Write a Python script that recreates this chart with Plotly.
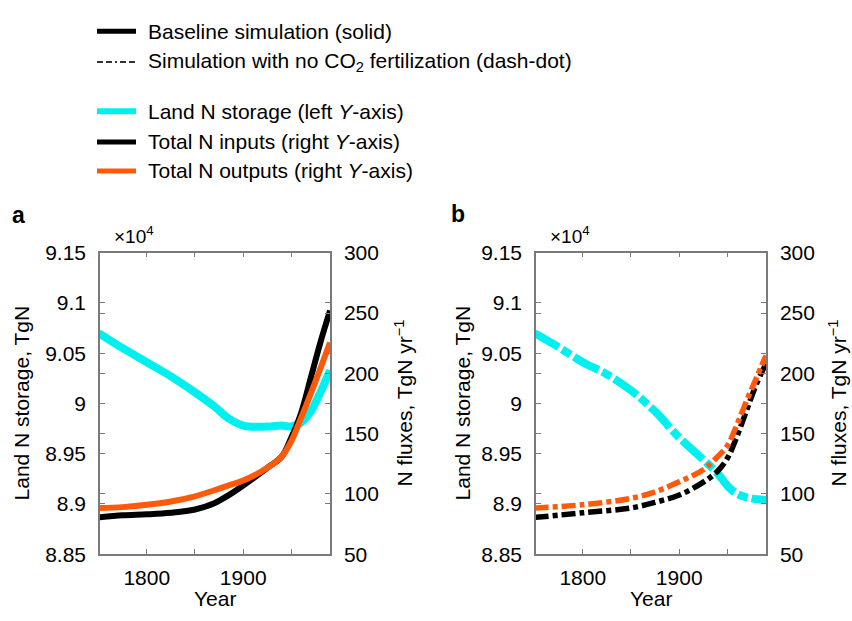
import plotly.graph_objects as go

# ---------------- data ----------------
years_a = [1750, 1775, 1800, 1825, 1850, 1870, 1885, 1900, 1925, 1940, 1950, 1960, 1970, 1980, 1990]
storage_a = [9.070, 9.055, 9.041, 9.027, 9.011, 8.997, 8.985, 8.978, 8.977, 8.978, 8.977, 8.981, 8.992, 9.011, 9.033]
inputs_a = [80.4, 82.2, 83.0, 84.3, 87.0, 92.3, 99.0, 107.0, 121.6, 131.0, 147.0, 167.0, 196.0, 225.5, 252.0]
outputs_a = [88.3, 89.0, 91.0, 93.7, 98.0, 103.0, 107.0, 111.0, 121.6, 131.0, 144.0, 163.0, 183.0, 204.0, 225.5]

years_b = [1750, 1775, 1800, 1825, 1850, 1875, 1900, 1925, 1940, 1950, 1960, 1975, 1990]
storage_b = [9.070, 9.056, 9.041, 9.029, 9.013, 8.992, 8.966, 8.944, 8.930, 8.918, 8.910, 8.9055, 8.904]
years_bf = [1750, 1800, 1850, 1875, 1900, 1925, 1940, 1950, 1960, 1970, 1980, 1990]
inputs_b = [80.4, 84.3, 88.3, 93.0, 99.0, 109.7, 119.0, 129.6, 148.0, 169.5, 191.0, 208.0]
outputs_b = [88.3, 91.0, 96.3, 101.7, 110.0, 120.0, 131.0, 140.0, 157.6, 177.5, 196.0, 214.8]

x_ticks = [1800, 1900]
left_ticks = [8.85, 8.9, 8.95, 9.0, 9.05, 9.1, 9.15]
left_labels = ["8.85", "8.9", "8.95", "9", "9.05", "9.1", "9.15"]
right_ticks = [50, 100, 150, 200, 250, 300]

legend_rows = [
    ("Baseline simulation (solid)", "black", "solid", 5),
    ("Simulation with no CO<sub>2</sub> fertilization (dash-dot)", "#333333", "6px,3px,6px,3px,2px,3px", 2),
    ("Land N storage (left <i>Y</i>-axis)", "#00F0F0", "solid", 6),
    ("Total N inputs (right <i>Y</i>-axis)", "black", "solid", 5),
    ("Total N outputs (right <i>Y</i>-axis)", "#FF5A0A", "solid", 5),
]

CYAN = "#00F0F0"
ORANGE = "#FF5A0A"
FONT = "Liberation Sans, Arial, sans-serif"
FS = 21
W, H = 852, 621

def px(x):
    return x / W

def py(y):
    return 1 - y / H

fig = go.Figure()

# panel a
fig.add_trace(go.Scatter(x=years_a, y=storage_a, mode="lines", line=dict(color=CYAN, width=8, shape="spline"),
                         xaxis="x", yaxis="y", showlegend=False))
fig.add_trace(go.Scatter(x=years_a, y=inputs_a, mode="lines", line=dict(color="black", width=6, shape="spline"),
                         xaxis="x", yaxis="y2", showlegend=False))
fig.add_trace(go.Scatter(x=years_a, y=outputs_a, mode="lines", line=dict(color=ORANGE, width=6, shape="spline"),
                         xaxis="x", yaxis="y2", showlegend=False))

# panel b
fig.add_trace(go.Scatter(x=years_b, y=storage_b, mode="lines",
                         line=dict(color=CYAN, width=8, shape="spline", dash="28px,4px,10px,4px"),
                         xaxis="x2", yaxis="y3", showlegend=False))
fig.add_trace(go.Scatter(x=years_bf, y=inputs_b, mode="lines",
                         line=dict(color="black", width=5.5, shape="spline", dash="14px,4px,5px,4px"),
                         xaxis="x2", yaxis="y4", showlegend=False))
fig.add_trace(go.Scatter(x=years_bf, y=outputs_b, mode="lines",
                         line=dict(color=ORANGE, width=5.5, shape="spline", dash="14px,4px,5px,4px"),
                         xaxis="x2", yaxis="y4", showlegend=False))

axcol = "#7a7a7a"
tickfont = dict(family=FONT, size=FS, color="black")
common_x = dict(range=[1751.5, 1990], tickvals=x_ticks, ticks="inside", ticklen=5, tickcolor=axcol,
                showline=True, linecolor=axcol, linewidth=1.5, mirror="ticks", showgrid=False, zeroline=False,
                tickfont=tickfont, ticklabelstandoff=4,
                minor=dict(dtick=50, tick0=1750, ticks="inside", ticklen=5, tickcolor=axcol))
common_yl = dict(range=[8.85, 9.15], tickvals=left_ticks, ticktext=left_labels, ticks="inside", ticklen=5,
                 tickcolor=axcol, showline=True, linecolor=axcol, linewidth=1.5, mirror="ticks",
                 showgrid=False, zeroline=False, tickfont=tickfont, ticklabelstandoff=8)
common_yr = dict(range=[50, 300], tickvals=right_ticks, ticks="inside", ticklen=5, tickcolor=axcol,
                 showline=True, linecolor=axcol, linewidth=1.5, mirror="ticks", side="right",
                 showgrid=False, zeroline=False, tickfont=tickfont, ticklabelstandoff=8)

dom_y = [py(563), py(250)]
fig.update_layout(
    width=W, height=H, margin=dict(l=0, r=0, t=0, b=0),
    paper_bgcolor="white", plot_bgcolor="white",
    font=dict(family=FONT, size=FS, color="black"),
    xaxis=dict(domain=[px(100), px(330)], anchor="y", **common_x),
    yaxis=dict(domain=dom_y, anchor="x", **common_yl),
    yaxis2=dict(overlaying="y", anchor="x", **common_yr),
    xaxis2=dict(domain=[px(536), px(766)], anchor="y3", **common_x),
    yaxis3=dict(domain=dom_y, anchor="x2", **common_yl),
    yaxis4=dict(overlaying="y3", anchor="x2", **common_yr),
)

annotations = []
def ann(text, x, y, size=FS, angle=0, xanchor="center", bold=False):
    t = f"<b>{text}</b>" if bold else text
    annotations.append(dict(text=t, x=px(x), y=py(y), xref="paper", yref="paper", showarrow=False,
                            textangle=angle, xanchor=xanchor, yanchor="middle",
                            font=dict(family=FONT, size=size, color="black")))

# panel labels and multipliers
ann("a", 18, 211, size=23, bold=True)
ann("b", 458, 210, size=23, bold=True)
ann("×10<sup>4</sup>", 134, 232, size=19)
ann("×10<sup>4</sup>", 570, 232, size=19)
# axis titles
for xl, xr, xc in [(21, 404, 215), (462, 838, 651)]:
    ann("Land N storage, TgN", xl, 406.5, angle=-90)
    ann("N fluxes, TgN yr<sup>−1</sup>", xr, 406.5, angle=-90)
    ann("Year", xc, 609)

# legend
row_y = [20, 52, 103, 135, 165]
shapes = []
for (label, color, dash, lw), yy in zip(legend_rows, row_y):
    shapes.append(dict(type="line", xref="paper", yref="paper", x0=px(97), x1=px(136), y0=py(yy), y1=py(yy),
                       line=dict(color=color, width=lw, dash=dash)))
    annotations.append(dict(text=label, x=px(146), y=py(yy), xref="paper", yref="paper", showarrow=False,
                            xanchor="left", yanchor="middle", font=dict(family=FONT, size=FS, color="black")))

fig.update_layout(annotations=annotations, shapes=shapes)
fig.write_html("out.html")
